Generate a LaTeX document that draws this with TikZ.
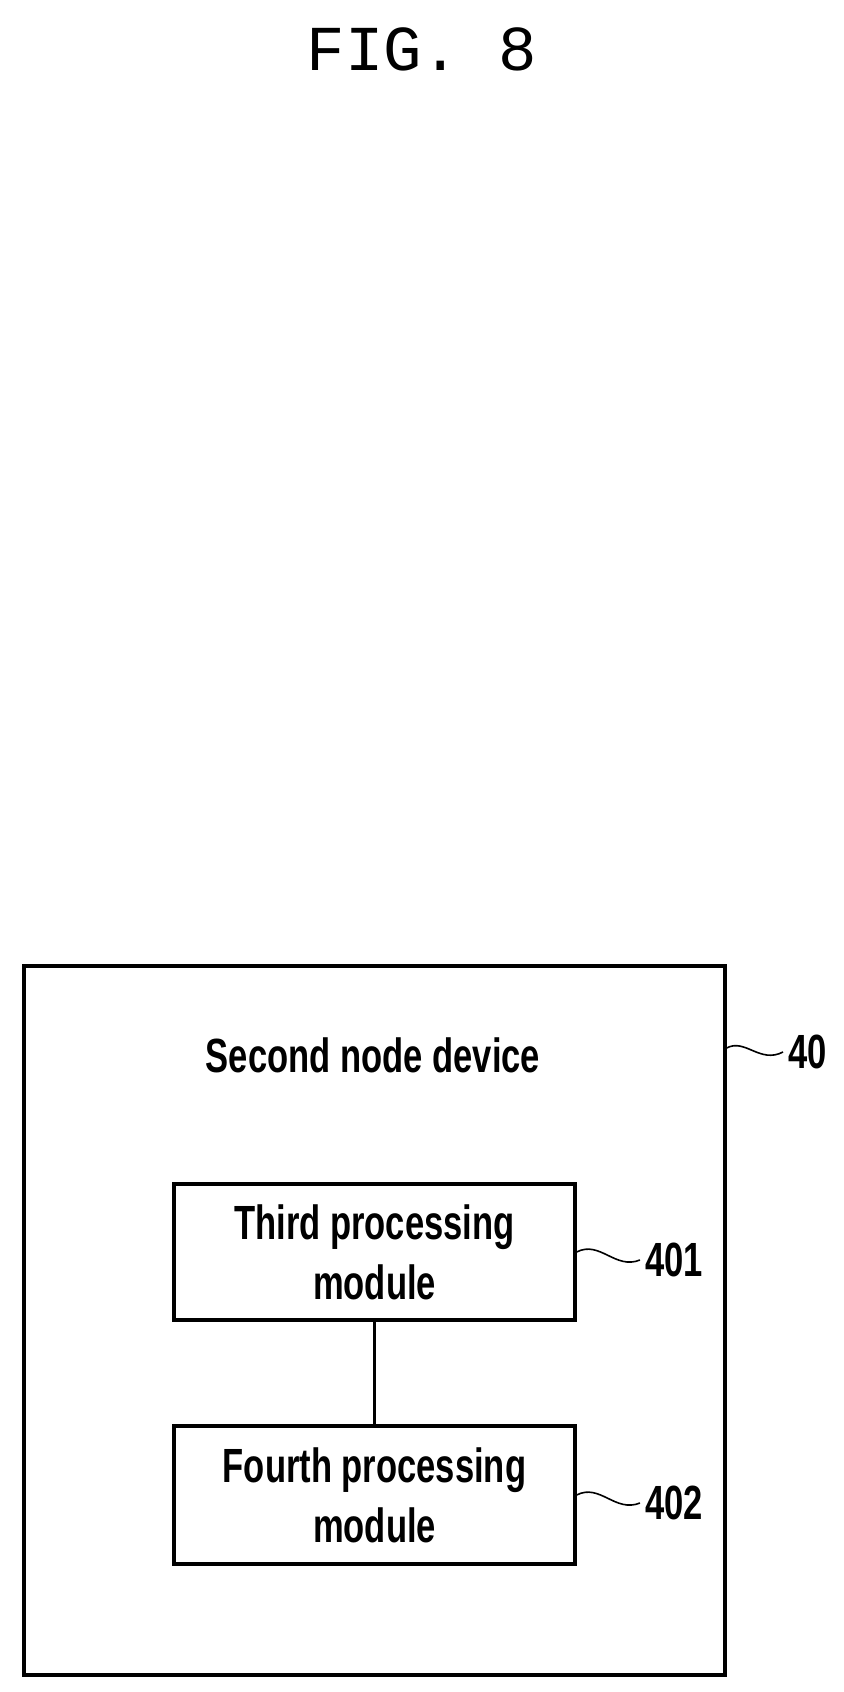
\documentclass[tikz,border=0pt]{standalone}
\usepackage{fontspec}
\setmainfont{Liberation Sans}
\newfontfamily\figfont{Liberation Mono}
\begin{document}
\begin{tikzpicture}[x=0.5pt,y=-0.5pt,
  box/.style={draw=black,line width=1.6pt,inner sep=0pt},
  txt/.style={font=\bfseries\fontsize{24}{26}\selectfont,xscale=0.72,align=center},
  lead/.style={line width=0.8pt}]
\path[use as bounding box] (0,0) rectangle (844,1692);

\node[font=\figfont\fontsize{32}{34}\selectfont] (fig) at (422,49) {FIG. 8};

\node[box,minimum width=701pt*0.5,minimum height=709pt*0.5] (dev) at (374.5,1320.5) {};
\node[txt] (devtxt) at (373,1055) {Second node device};

\node[box,minimum width=200.5pt,minimum height=68pt] (third) at (374.5,1252) {};
\node[txt,font=\bfseries\fontsize{24}{30}\selectfont] (thirdtxt) at (374.5,1252) {Third processing\\module};
\node[box,minimum width=200.5pt,minimum height=69pt] (fourth) at (374.5,1495) {};
\node[txt,font=\bfseries\fontsize{24}{30}\selectfont] (fourthtxt) at (374.5,1495) {Fourth processing\\module};
\draw[line width=1.2pt] (third.south) -- (fourth.north);

\node[txt,anchor=west] (l40) at (783,1052) {40};
\node[txt,anchor=west] (l401) at (640,1260) {401};
\node[txt,anchor=west] (l402) at (640,1503) {402};

\draw[lead] (dev.north east |- l40.west) ++(0,-4) coordinate (c40)
  .. controls (745,1038) and (760,1064) .. (l40.west);
\draw[lead] (third.east |- l401.west) ++(0,-8) coordinate (c401)
  .. controls (600,1240) and (615,1270) .. (l401.west);
\draw[lead] (fourth.east |- l402.west) ++(0,-8) coordinate (c402)
  .. controls (600,1483) and (615,1513) .. (l402.west);
\end{tikzpicture}
\end{document}
